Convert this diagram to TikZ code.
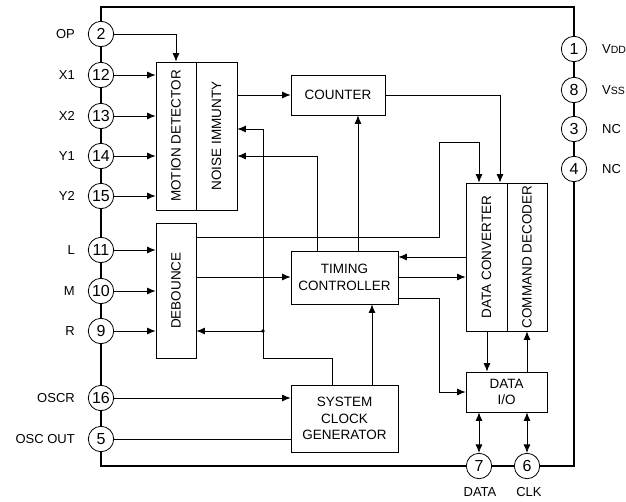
\documentclass[tikz,border=0pt]{standalone}
\usepackage{fontspec}
\setmainfont{Liberation Sans}
\usetikzlibrary{arrows.meta,calc}
\begin{document}
\begin{tikzpicture}[x=1pt,y=-1pt,
  blk/.style={draw,line width=0.8pt,inner sep=0pt,font=\fontsize{13.5}{16.7}\selectfont,align=center},
  pin/.style={draw,circle,fill=white,line width=0.8pt,minimum size=25.4pt,inner sep=0pt,font=\fontsize{16}{16}\selectfont},
  plabel/.style={inner sep=0pt,font=\fontsize{13}{14}\selectfont},
  arr/.style={line width=0.8pt,-{Latex[length=8.5pt,width=7pt]}},
  darr/.style={line width=0.8pt,{Latex[length=8.5pt,width=7pt]}-{Latex[length=8.5pt,width=7pt]}},
  ln/.style={line width=0.8pt},
  frame/.style={line width=1.3pt}]
\useasboundingbox (0,0) rectangle (626,501);
% frame
\draw[frame] (101,466) -- (101,7) -- (574,7) -- (574,466) -- cycle;
% blocks
\node[blk,minimum width=40pt,minimum height=148pt] (md) at (176,136) {\rotatebox{90}{MOTION DETECTOR}};
\node[blk,minimum width=41pt,minimum height=148pt] (ni) at (216.5,136) {\rotatebox{90}{NOISE IMMUNTY}};
\node[blk,minimum width=94pt,minimum height=40pt] (cnt) at (338,95) {COUNTER};
\node[blk,minimum width=40pt,minimum height=135pt] (deb) at (176,290.5) {\rotatebox{90}{DEBOUNCE}};
\node[blk,minimum width=107pt,minimum height=53pt] (tc) at (344.5,277.5) {TIMING\\CONTROLLER};
\node[blk,minimum width=107pt,minimum height=67pt] (scg) at (344.5,418.5) {SYSTEM\\CLOCK\\GENERATOR};
\node[blk,minimum width=41pt,minimum height=148pt] (dc) at (486.5,257) {\rotatebox{90}{DATA CONVERTER}};
\node[blk,minimum width=40pt,minimum height=148pt] (cd) at (527,257) {\rotatebox{90}{COMMAND DECODER}};
\node[blk,minimum width=81pt,minimum height=40pt] (dio) at (506.5,392) {DATA\\I/O};
% pins left
\node[pin] (p2) at (101,34) {2};
\node[pin] (p12) at (101,75) {12};
\node[pin] (p13) at (101,116) {13};
\node[pin] (p14) at (101,156) {14};
\node[pin] (p15) at (101,196) {15};
\node[pin] (p11) at (101,250) {11};
\node[pin] (p10) at (101,291) {10};
\node[pin] (p9) at (101,331) {9};
\node[pin] (p16) at (101,398) {16};
\node[pin] (p5) at (101,439) {5};
% pins right
\node[pin] (p1) at (574,49) {1};
\node[pin] (p8) at (574,90) {8};
\node[pin] (p3) at (574,129) {3};
\node[pin] (p4) at (574,169) {4};
% pins bottom
\node[pin] (p7) at (479,466) {7};
\node[pin] (p6) at (527,466) {6};
% labels
\node[plabel,anchor=east] (lop) at (75,34) {OP};
\node[plabel,anchor=east] (lx1) at (75,75) {X1};
\node[plabel,anchor=east] (lx2) at (75,116) {X2};
\node[plabel,anchor=east] (ly1) at (75,156) {Y1};
\node[plabel,anchor=east] (ly2) at (75,196) {Y2};
\node[plabel,anchor=east] (ll) at (75,250) {L};
\node[plabel,anchor=east] (lm) at (75,291) {M};
\node[plabel,anchor=east] (lr) at (75,331) {R};
\node[plabel,anchor=east] (losc) at (75,398) {OSCR};
\node[plabel,anchor=east] (lout) at (75,439) {OSC OUT};
\node[plabel,anchor=west] (lvdd) at (602,49) {V{\fontsize{10.5}{12}\selectfont DD}};
\node[plabel,anchor=west] (lvss) at (602,90) {V{\fontsize{10.5}{12}\selectfont SS}};
\node[plabel,anchor=west] (lnc1) at (602,129) {NC};
\node[plabel,anchor=west] (lnc2) at (602,169) {NC};
\node[plabel] (ldata) at (480,492) {DATA};
\node[plabel] (lclk) at (529,492) {CLK};
% connectors
\draw[arr] (p2.east) -| (md.north);
\draw[arr] (p12.east) -- (p12 -| md.west);
\draw[arr] (p13.east) -- (p13 -| md.west);
\draw[arr] (p14.east) -- (p14 -| md.west);
\draw[arr] (p15.east) -- (p15 -| md.west);
\draw[arr] (p11.east) -- (p11 -| deb.west);
\draw[arr] (p10.east) -- (p10 -| deb.west);
\draw[arr] (p9.east) -- (p9 -| deb.west);
\draw[arr] (ni.east |- cnt) -- (cnt.west);
\coordinate (jn) at (263,331);
\draw[arr] (scg.north -| 332,0) -- (332,358) -- (263,358) -- (263,129) -- (263,129 -| ni.east);
\fill (jn) circle (1.8pt);
\draw[arr] (jn) -- (jn -| deb.east);
\draw[arr] (tc.north -| 317,0) -- (317,156) -- (317,156 -| ni.east);
\draw[arr] (tc.north -| 358,0) -- (cnt.south -| 358,0);
\draw[arr] (cnt.east) -| (dc.north -| 500,0);
\draw[arr] (deb.east |- 0,237) -- (439,237) -- (439,142) -- (479,142) -- (dc.north -| 479,0);
\draw[arr] (deb.east |- 0,277) -- (tc.west |- 0,277);
\draw[arr] (dc.west |- 0,257) -- (tc.east |- 0,257);
\draw[arr] (tc.east |- 0,277) -- (dc.west |- 0,277);
\draw[arr] (tc.east |- 0,298) -- (439,298) -- (439,392) -- (dio.west);
\draw[arr] (dc.south -| 487,0) -- (dio.north -| 487,0);
\draw[arr] (dio.north -| 527,0) -- (cd.south -| 527,0);
\draw[darr] (dio.south -| p7) -- (p7.north);
\draw[darr] (dio.south -| p6) -- (p6.north);
\draw[arr] (scg.north -| 372,0) -- (tc.south -| 372,0);
\draw[arr] (p16.east) -- (p16 -| scg.west);
\draw[ln] (p5.east) -- (p5 -| scg.west);
\end{tikzpicture}
\end{document}
